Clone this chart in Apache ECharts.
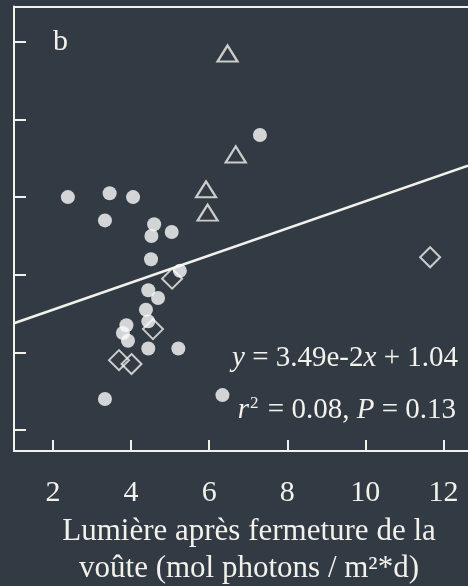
<!DOCTYPE html>
<html>
<head>
<meta charset="utf-8">
<script src="https://cdn.jsdelivr.net/npm/echarts@6/dist/echarts.min.js"></script>
<style>
  html, body { margin: 0; padding: 0; background: #323a43; }
  #chart { width: 468px; height: 586px; }
</style>
</head>
<body>
<div id="chart"></div>
<script>
// Light after canopy closure (mol photons / m²*d) vs. response, three groups
const filledPoints = [
  [2.38, 1.40], [3.45, 1.41], [4.05, 1.40], [3.33, 1.34], [4.59, 1.33],
  [4.52, 1.30], [5.04, 1.31], [4.51, 1.24], [5.25, 1.21], [4.44, 1.16],
  [4.69, 1.14], [4.38, 1.11], [4.44, 1.08], [3.88, 1.07], [3.79, 1.05],
  [3.92, 1.03], [4.44, 1.01], [5.21, 1.01], [3.33, 0.88], [6.34, 0.89],
  [7.30, 1.56]
];
const trianglePoints = [
  [6.47, 1.77], [6.68, 1.51], [5.92, 1.42], [5.96, 1.36]
];
const diamondPoints = [
  [5.05, 1.19], [4.56, 1.06], [3.69, 0.98], [4.01, 0.97], [11.66, 1.245]
];

// Fitted regression: y = 3.49e-2 x + 1.04
const slope = 0.0349;
const intercept = 1.04;

const xTicks = [2, 4, 6, 8, 10, 12];
const yTicks = [0.8, 1.0, 1.2, 1.4, 1.6, 1.8];
const xRange = [1, 12.63];
const yRange = [0.746, 1.891];

const fitLine = xRange.map(x => [x, slope * x + intercept]);

const fg = '#f2f1ec';
const serif = "'Liberation Serif', 'Times New Roman', serif";

const chart = echarts.init(document.getElementById('chart'), null, { renderer: 'canvas' });

chart.setOption({
  backgroundColor: '#323a43',
  animation: false,
  grid: { left: 14, right: 0, top: 6.5, bottom: 135, containLabel: false },
  xAxis: [
    {
      type: 'value',
      position: 'bottom',
      min: xRange[0],
      max: xRange[1],
      splitLine: { show: false },
      axisLine: { show: true, lineStyle: { color: fg, width: 2 } },
      axisTick: { show: true, inside: true, length: 11, customValues: xTicks, lineStyle: { color: fg, width: 2 } },
      axisLabel: { show: true, customValues: xTicks, margin: 27, color: fg, fontFamily: serif, fontSize: 30 }
    },
    {
      type: 'value',
      position: 'top',
      min: xRange[0],
      max: xRange[1],
      splitLine: { show: false },
      axisLine: { show: true, lineStyle: { color: fg, width: 2 } },
      axisTick: { show: false },
      axisLabel: { show: false }
    }
  ],
  yAxis: {
    type: 'value',
    min: yRange[0],
    max: yRange[1],
    splitLine: { show: false },
    axisLine: { show: true, lineStyle: { color: fg, width: 2 } },
    axisTick: { show: true, inside: true, length: 12, customValues: yTicks, lineStyle: { color: fg, width: 2 } },
    axisLabel: { show: false }
  },
  series: [
    {
      type: 'line',
      data: fitLine,
      symbol: 'none',
      lineStyle: { color: fg, width: 2.6 },
      z: 1
    },
    {
      type: 'scatter',
      data: diamondPoints,
      symbol: 'diamond',
      symbolSize: 20,
      itemStyle: { color: 'rgba(0,0,0,0)', borderColor: fg, borderWidth: 2 },
      z: 2
    },
    {
      type: 'scatter',
      data: trianglePoints,
      symbol: 'triangle',
      symbolSize: [20, 16],
      itemStyle: { color: 'rgba(0,0,0,0)', borderColor: fg, borderWidth: 2.2 },
      z: 3
    },
    {
      type: 'scatter',
      data: filledPoints,
      symbol: 'circle',
      symbolSize: 14,
      itemStyle: { color: '#fbfbfb' },
      z: 4
    }
  ],
  graphic: [
    {
      type: 'text', x: 53, y: 42,
      style: { text: 'b', fill: fg, font: '30px ' + serif, textAlign: 'left', textVerticalAlign: 'middle' }
    },
    {
      type: 'text', x: 458, y: 358,
      style: {
        text: '{i|y} = 3.49e-2{i|x} + 1.04',
        fill: fg, font: '29px ' + serif, textAlign: 'right', textVerticalAlign: 'middle',
        rich: { i: { fontStyle: 'italic', fontSize: 29, fontFamily: serif, fill: fg } }
      }
    },
    {
      type: 'text', x: 456, y: 410,
      style: {
        text: '{i|r}{sup|2} = 0.08, {i|P} = 0.13',
        fill: fg, font: '29px ' + serif, textAlign: 'right', textVerticalAlign: 'middle',
        rich: {
          i: { fontStyle: 'italic', fontSize: 29, fontFamily: serif, fill: fg },
          sup: { fontSize: 17, fontFamily: serif, fill: fg, verticalAlign: 'top', padding: [0, 2, 0, 1] }
        }
      }
    },
    {
      type: 'text', x: 249, y: 550,
      style: {
        text: 'Lumière après fermeture de la\nvoûte (mol photons / m²*d)',
        fill: fg, font: '31px ' + serif, lineHeight: 37,
        textAlign: 'center', textVerticalAlign: 'middle'
      }
    }
  ]
});
</script>
</body>
</html>
